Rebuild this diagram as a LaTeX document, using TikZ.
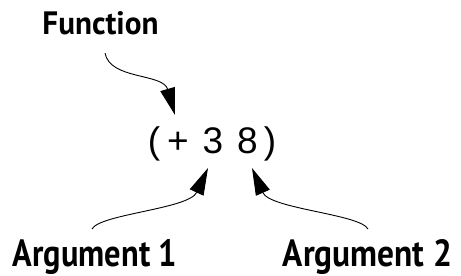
\documentclass[tikz,border=0pt]{standalone}
\usepackage{fontspec}
\usepackage{graphicx}
\setmainfont{Liberation Sans}
\newfontfamily\lblfont{PT Sans}
\usetikzlibrary{arrows.meta}
\tikzset{
  lbl/.style={inner sep=0pt, anchor=base, font=\lblfont\bfseries},
  expr/.style={inner sep=0pt, anchor=base, font=\fontsize{37}{40}\selectfont},
  pointer/.style={line width=0.9pt, -{Triangle[length=27pt,width=15pt]}}
}
\begin{document}
\begin{tikzpicture}[x=1pt,y=-1pt]
\useasboundingbox (0,0) rectangle (461,276);
% labels
\node[lbl] (fn) at (100.5,34) {\resizebox{116pt}{23pt}{Function}};
\node[lbl] (a1) at (95,266) {\resizebox{164pt}{27pt}{Argument 1}};
\node[lbl] (a2) at (367.5,266) {\resizebox{169pt}{27pt}{Argument 2}};
% expression
\node[expr] (lp) at (154,153) {(};
\node[expr] (plus) at (178,153) {+};
\node[expr] (three) at (213,153) {3};
\node[expr] (eight) at (247.5,153) {8};
\node[expr] (rp) at (270,153) {)};
% connector ends
\coordinate (fnstart) at (105,53);
\coordinate (fntip) at (175,115);
\coordinate (a1start) at (92,229);
\coordinate (a1tip) at (208,168);
\coordinate (a2start) at (368,229);
\coordinate (a2tip) at (252,168);
% connectors
\draw[pointer] (fnstart) .. controls (110,80) and (163,73) .. (fntip);
\draw[pointer] (a1start) .. controls (100,214) and (189,209) .. (a1tip);
\draw[pointer] (a2start) .. controls (360,214) and (270,209) .. (a2tip);
\end{tikzpicture}
\end{document}
